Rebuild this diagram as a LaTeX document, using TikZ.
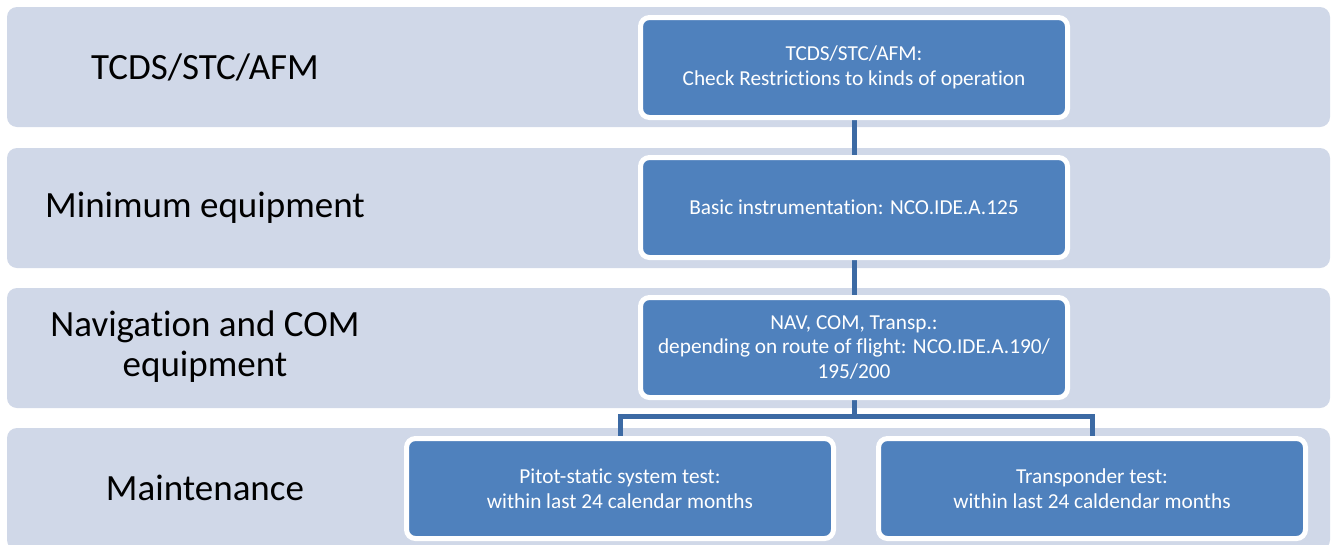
\documentclass[tikz,border=0pt]{standalone}
\usepackage{fontspec}
\setmainfont[Ligatures=NoCommon]{Carlito}
\usetikzlibrary{backgrounds}
\definecolor{bandc}{HTML}{D0D8E8}
\definecolor{boxc}{HTML}{4F81BD}
\definecolor{linec}{HTML}{3C6AA4}
\begin{document}
\begin{tikzpicture}[x=1pt,y=-1pt,
  band/.style={fill=bandc,draw=none,rounded corners=10pt},
  lbl/.style={font=\fontsize{37}{40}\selectfont,align=center,text=black,inner sep=0pt},
  sbox/.style={fill=boxc,draw=white,line width=5pt,rounded corners=9pt,minimum width=427pt,minimum height=100pt,
    font=\fontsize{21.3}{24.5}\selectfont,text=white,align=center,inner sep=0pt},
  conn/.style={draw=linec,line width=5pt}]
\useasboundingbox (0,0) rectangle (1336,544);
% band labels
\node[lbl] (l1) at (205,67) {TCDS/STC/AFM};
\node[lbl] (l2) at (205,208) {Minimum equipment};
\node[lbl] (l3) at (205,347) {Navigation and COM\\equipment};
\node[lbl] (l4) at (205,488) {Maintenance};
% boxes
\node[sbox] (b1) at (854,67.5) {TCDS/STC/AFM:\\Check Restrictions to kinds of operation};
\node[sbox] (b2) at (854,207.5) {Basic instrumentation: NCO.IDE.A.125};
\node[sbox] (b3) at (854,347.5) {NAV, COM, Transp.:\\depending on route of flight: NCO.IDE.A.190/\\195/200};
\node[sbox] (b4) at (620,488.5) {Pitot-static system test:\\within last 24 calendar months};
\node[sbox] (b5) at (1092,488.5) {Transponder test:\\within last 24 caldendar months};
\coordinate (j) at (854,416);
\begin{scope}[on background layer]
  \fill[white] (0,0) rectangle (1336,544);
  % bands
  \path[band] (7,7) rectangle (1330,127);
  \path[band] (7,148) rectangle (1330,268);
  \path[band] (7,288) rectangle (1330,408);
  \path[band] (7,428) rectangle (1330,550);
  % connectors
  \draw[conn] (b1.south) -- (b2.north);
  \draw[conn] (b2.south) -- (b3.north);
  \draw[conn] (b3.south) -- (j);
  \draw[conn,line cap=rect] (j -| b4.north) -- (j -| b5.north);
  \draw[conn] (j -| b4.north) -- (b4.north);
  \draw[conn] (j -| b5.north) -- (b5.north);
\end{scope}
\end{tikzpicture}
\end{document}
